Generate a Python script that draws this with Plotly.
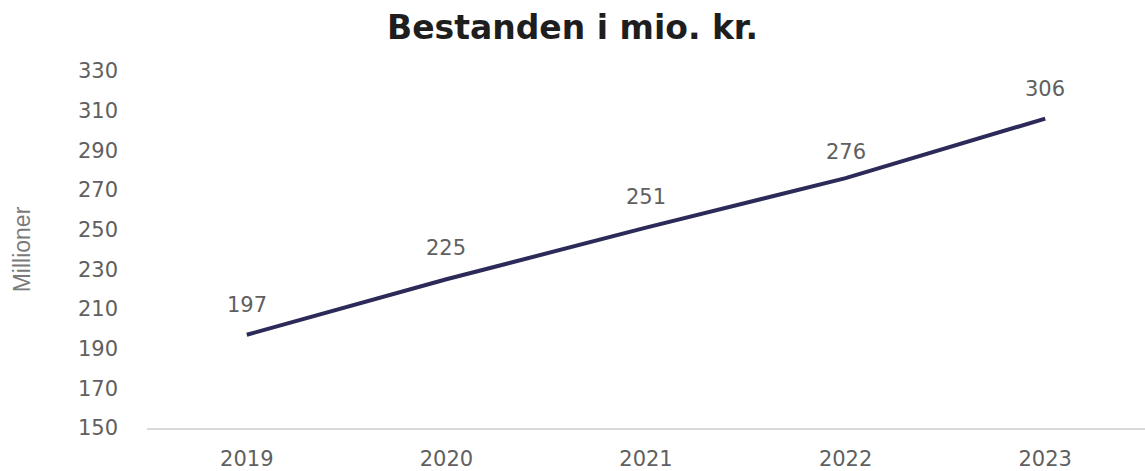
import plotly.graph_objects as go

years = ["2019", "2020", "2021", "2022", "2023"]
values = [197, 225, 251, 276, 306]
y_ticks = [150, 170, 190, 210, 230, 250, 270, 290, 310, 330]

x_pos = list(range(len(years)))
label_dy = [30, 31, 31, 26, 30]

fig = go.Figure()
fig.add_trace(go.Scatter(
    x=x_pos, y=values, mode="lines",
    line=dict(color="#2c2a58", width=4),
    hoverinfo="skip", showlegend=False,
))

for xp, v, dy in zip(x_pos, values, label_dy):
    fig.add_annotation(
        x=xp, y=v, xref="x", yref="y", text=str(v), showarrow=False,
        yshift=dy,
        font=dict(family="DejaVu Sans", size=21, color="#606060"),
    )

fig.update_layout(
    width=1145, height=471,
    margin=dict(l=147, r=0, t=71, b=41),
    paper_bgcolor="white", plot_bgcolor="white",
    title=dict(
        text="<b>Bestanden i mio. kr.</b>",
        x=0.5, xanchor="center", y=0.942, yanchor="middle",
        font=dict(family="DejaVu Sans", size=33, color="#1e1e1e"),
    ),
    xaxis=dict(
        range=[-0.5, 4.5], tickvals=x_pos, ticktext=years,
        showgrid=False, zeroline=False, showline=True,
        linecolor="#d9d9d9", linewidth=1.5,
        ticks="", tickfont=dict(family="DejaVu Sans", size=21, color="#606060"),
        ticklabelstandoff=11,
    ),
    yaxis=dict(
        range=[150, 330], tickvals=y_ticks,
        showgrid=False, zeroline=False, showline=False, ticks="",
        tickfont=dict(family="DejaVu Sans", size=21, color="#606060"),
        ticklabelstandoff=28,
        title=dict(text="Millioner", standoff=40,
                   font=dict(family="Liberation Sans", size=23, color="#7a7a7a")),
    ),
)

fig.write_html(
    "out.html",
    config={"displayModeBar": False},
    post_script="document.body.style.margin='0';document.body.style.overflow='hidden';",
)
